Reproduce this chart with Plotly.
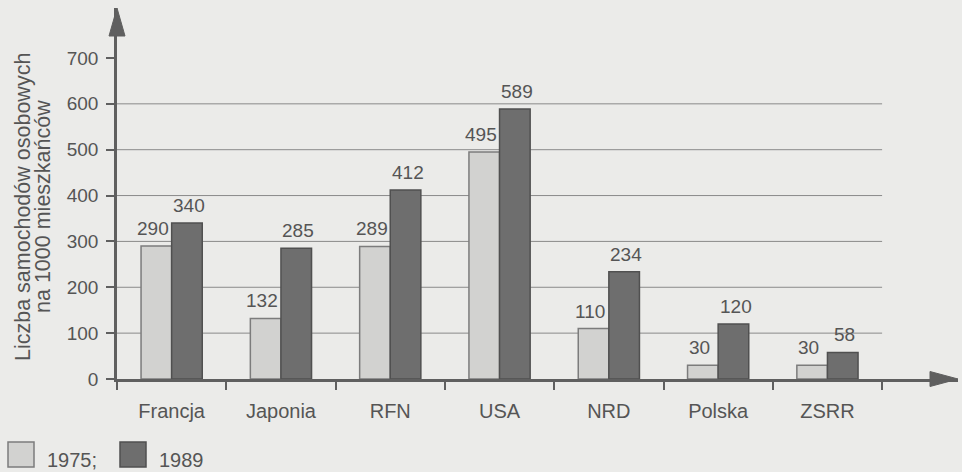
import plotly.graph_objects as go

countries = ["Francja", "Japonia", "RFN", "USA", "NRD", "Polska", "ZSRR"]
cars_1975 = [290, 132, 289, 495, 110, 30, 30]
cars_1989 = [340, 285, 412, 589, 234, 120, 58]
y_ticks = [0, 100, 200, 300, 400, 500, 600, 700]
grid_levels = [100, 200, 300, 400, 500, 600]
series_names = ["1975;", "1989"]

BG = "#ebebe9"
AX = "#5f5f5f"
TXT = "#555555"
LIGHT = "#d2d2d0"
DARK = "#6e6e6e"
FONT = "Liberation Sans, Arial, sans-serif"

W, H = 962, 472
L, R, T, B = 117, 4, 8, 93
pw, ph = W - L - R, H - T - B


def px(xp):
    return (xp - L) / pw


def py(yp):
    return (H - B - yp) / ph


fig = go.Figure()
fig.add_trace(go.Bar(
    name=series_names[0], x=countries, y=cars_1975,
    marker=dict(color=LIGHT, line=dict(color="#7c7c7c", width=1.5)),
))
fig.add_trace(go.Bar(
    name=series_names[1], x=countries, y=cars_1989,
    marker=dict(color=DARK, line=dict(color="#505050", width=1.5)),
))

annotations = []
half = 15.5
for c, v in zip(countries, cars_1975):
    annotations.append(dict(x=c, y=v, xref="x", yref="y", text=str(v), showarrow=False,
                            xshift=-half - 3, yshift=5, yanchor="bottom",
                            font=dict(size=19, color=TXT, family=FONT)))
for c, v in zip(countries, cars_1989):
    annotations.append(dict(x=c, y=v, xref="x", yref="y", text=str(v), showarrow=False,
                            xshift=half + 2, yshift=5, yanchor="bottom",
                            font=dict(size=19, color=TXT, family=FONT)))

# y-axis title as two rotated lines
annotations.append(dict(x=px(23), y=py(207), xref="paper", yref="paper",
                        text="Liczba samochodów osobowych", textangle=-90, showarrow=False,
                        xanchor="center", yanchor="middle",
                        font=dict(size=21.5, color=TXT, family=FONT)))
annotations.append(dict(x=px(43), y=py(207), xref="paper", yref="paper",
                        text="na 1000 mieszkańców", textangle=-90, showarrow=False,
                        xanchor="center", yanchor="middle",
                        font=dict(size=21.5, color=TXT, family=FONT)))

shapes = []
for g in grid_levels:
    shapes.append(dict(type="line", xref="x", yref="y", x0=-0.5, x1=6.5, y0=g, y1=g,
                       line=dict(color="#8a8a8a", width=1), layer="below"))
# arrow heads
ax_half = 8 / pw
ay_len = 28 / ph
shapes.append(dict(type="path", xref="paper", yref="paper",
                   path=f"M {-ax_half},{1-ay_len} L 0,1 L {ax_half},{1-ay_len} Z",
                   fillcolor=AX, line=dict(color=AX, width=1)))
bx_len = 28 / pw
by_half = 7.5 / ph
shapes.append(dict(type="path", xref="paper", yref="paper",
                   path=f"M {1-bx_len},{-by_half} L 1,0 L {1-bx_len},{by_half} Z",
                   fillcolor=AX, line=dict(color=AX, width=1)))

# custom legend (large swatches)
legend_items = [(series_names[0], LIGHT, "#7c7c7c", 8, 45),
                (series_names[1], DARK, "#505050", 120, 157)]
for name, fill, edge, sx, tx in legend_items:
    shapes.append(dict(type="rect", xref="paper", yref="paper",
                       x0=px(sx), x1=px(sx + 26), y0=py(467), y1=py(442),
                       fillcolor=fill, line=dict(color=edge, width=1.5)))
    annotations.append(dict(x=px(tx), y=py(460), xref="paper", yref="paper", text=name,
                            showarrow=False, xanchor="left", yanchor="middle",
                            font=dict(size=20, color=TXT, family=FONT)))

fig.update_layout(
    width=W, height=H,
    margin=dict(l=L, r=R, t=T, b=B, pad=0, autoexpand=False),
    paper_bgcolor=BG, plot_bgcolor=BG,
    barmode="group", bargap=0.44, bargroupgap=0,
    font=dict(family=FONT, size=19, color=TXT),
    shapes=shapes, annotations=annotations,
    showlegend=False,
    xaxis=dict(range=[-0.5, -0.5 + pw / 109.3], showline=True, linecolor=AX, linewidth=2.5,
               ticks="outside", tickson="boundaries", ticklen=8, tickwidth=2,
               tickcolor=AX, showgrid=False, zeroline=False,
               tickfont=dict(size=20, color=TXT), ticklabelstandoff=12),
    yaxis=dict(range=[0, ph / 0.4586], tickvals=y_ticks, showline=True, linecolor=AX,
               linewidth=2.5, ticks="outside", ticklen=8, tickwidth=2, tickcolor=AX,
               showgrid=False, zeroline=False, tickfont=dict(size=19, color=TXT),
               ticklabelstandoff=4),
)

fig.write_html("out.html", config={"displayModeBar": False},
               post_script="document.body.style.margin='0';")
